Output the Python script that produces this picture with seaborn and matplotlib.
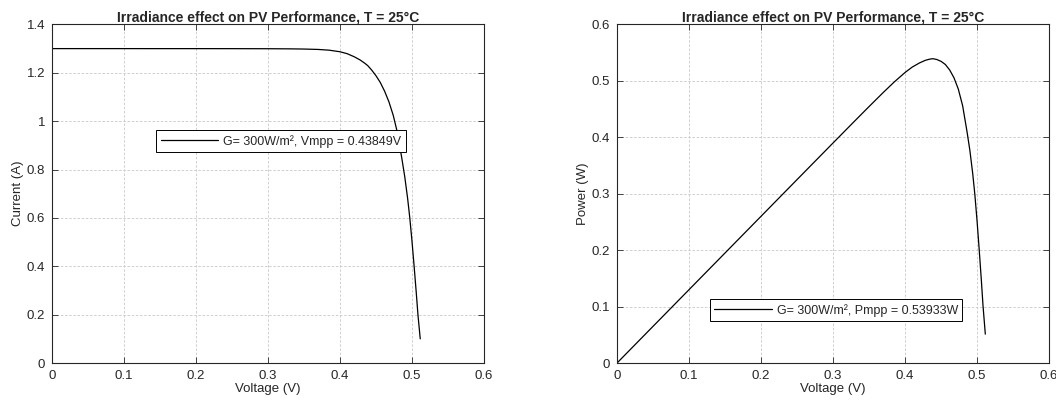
import pandas as pd
import seaborn as sns
import matplotlib
matplotlib.use("Agg")
import matplotlib.pyplot as plt

# ---- data ----
voltage = [0.0, 0.05, 0.1, 0.15, 0.2, 0.25, 0.3, 0.33, 0.35, 0.37, 0.385, 0.4,
           0.41, 0.42, 0.428, 0.434, 0.4385, 0.444, 0.45, 0.456, 0.462, 0.468,
           0.474, 0.48, 0.486, 0.49, 0.494, 0.497, 0.5, 0.503, 0.506, 0.5083, 0.5115]
current = [1.3000, 1.3000, 1.3000, 1.2999, 1.2999, 1.2998, 1.2995, 1.2990, 1.2982,
           1.2965, 1.2935, 1.2870, 1.2790, 1.2660, 1.2530, 1.2405, 1.2299, 1.2115,
           1.1880, 1.1600, 1.1240, 1.0800, 1.0240, 0.9500, 0.8450, 0.7700, 0.6800,
           0.6000, 0.5050, 0.4000, 0.2900, 0.2000, 0.1000]
power = [0.0, 0.0650, 0.1300, 0.1950, 0.2600, 0.3250, 0.3899, 0.4287, 0.4544,
         0.4797, 0.4980, 0.5148, 0.5244, 0.5317, 0.5363, 0.5384, 0.5393, 0.5379,
         0.5346, 0.5290, 0.5193, 0.5054, 0.4854, 0.4560, 0.4107, 0.3773, 0.3359,
         0.2982, 0.2525, 0.2012, 0.1467, 0.1017, 0.0512]

title = "Irradiance effect on PV Performance, T = 25°C"
label_iv = "G= 300W/m², Vmpp = 0.43849V"
label_pv = "G= 300W/m², Pmpp = 0.53933W"

df = pd.DataFrame({"Voltage": voltage, "Current": current, "Power": power})

sns.set_style("ticks")
plt.rcParams["font.family"] = ["Liberation Sans", "DejaVu Sans"]
plt.rcParams["xtick.direction"] = "in"
plt.rcParams["ytick.direction"] = "in"

fig = plt.figure(figsize=(10.56, 4.07), dpi=100)
ax1 = fig.add_axes([0.0492, 0.108, 0.4091, 0.832])
ax2 = fig.add_axes([0.5843, 0.108, 0.4091, 0.832])


def style_axes(ax, ylim, yticks, ylabel):
    ax.set_xlim(0, 0.6)
    ax.set_ylim(*ylim)
    ax.set_xticks([0, 0.1, 0.2, 0.3, 0.4, 0.5, 0.6])
    ax.set_xticklabels(["0", "0.1", "0.2", "0.3", "0.4", "0.5", "0.6"])
    ax.set_yticks(yticks)
    ax.set_yticklabels([("%g" % t) for t in yticks])
    ax.grid(True, color="#c8c8c8", linestyle=(0, (3, 2)), linewidth=0.6)
    ax.set_axisbelow(True)
    ax.tick_params(axis="both", labelsize=9.5, colors="#262626", length=4,
                   width=0.6, top=True, right=True, pad=5)
    for s in ax.spines.values():
        s.set_visible(True)
        s.set_color("#262626")
        s.set_linewidth(0.8)
    ax.set_xlabel("Voltage (V)", fontsize=9.5, color="#262626", labelpad=1)
    ax.set_ylabel(ylabel, fontsize=9.5, color="#262626", labelpad=2)
    ax.set_title(title, fontsize=10, fontweight="bold", pad=2)


sns.lineplot(data=df, x="Voltage", y="Current", ax=ax1, color="black",
             linewidth=0.9, sort=False, estimator=None, label=label_iv)
style_axes(ax1, (0, 1.4), [0, 0.2, 0.4, 0.6, 0.8, 1.0, 1.2, 1.4], "Current (A)")
ax1.legend(loc="center", bbox_to_anchor=(0.53, 0.655), fontsize=9,
           fancybox=False, edgecolor="black", framealpha=1, handlelength=4.6,
           borderpad=0.35, handletextpad=0.4)
ax1.get_legend().get_frame().set_linewidth(0.7)

sns.lineplot(data=df, x="Voltage", y="Power", ax=ax2, color="black",
             linewidth=0.9, sort=False, estimator=None, label=label_pv)
style_axes(ax2, (0, 0.6), [0, 0.1, 0.2, 0.3, 0.4, 0.5, 0.6], "Power (W)")
ax2.legend(loc="center", bbox_to_anchor=(0.507, 0.156), fontsize=9,
           fancybox=False, edgecolor="black", framealpha=1, handlelength=4.6,
           borderpad=0.35, handletextpad=0.4)
ax2.get_legend().get_frame().set_linewidth(0.7)

fig.savefig("out.png", dpi=100)
